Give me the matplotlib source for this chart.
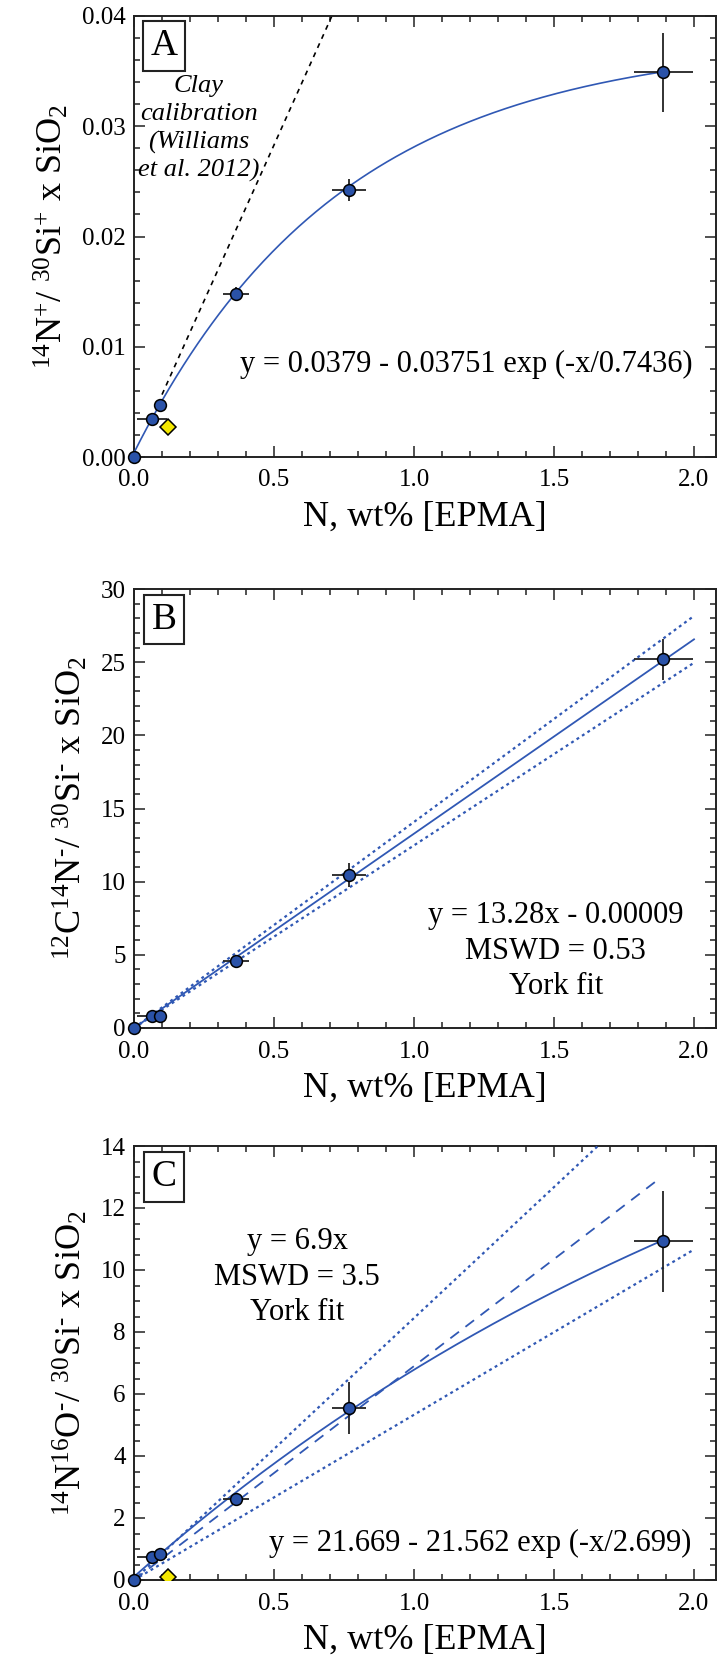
"""Three-panel SIMS nitrogen calibration (A: 14N+, B: 12C14N-, C: 14N16O-)."""

import matplotlib
matplotlib.use("Agg")
import matplotlib.pyplot as plt
import numpy as np
from matplotlib.ticker import MultipleLocator, FormatStrFormatter

plt.rcParams["font.family"] = ["Liberation Serif", "DejaVu Serif"]
plt.rcParams["mathtext.fontset"] = "custom"
plt.rcParams["mathtext.rm"] = "Liberation Serif"
plt.rcParams["mathtext.it"] = "Liberation Serif:italic"
plt.rcParams["mathtext.default"] = "regular"

# ---- data ----
n_epma = [0.0, 0.063, 0.092, 0.364, 0.767, 1.89]
n_epma_err = [0.0, 0.054, 0.01, 0.045, 0.06, 0.105]
glass_x = [0.12]  # yellow diamond standard

a_ratio = [0.0, 0.00345, 0.0047, 0.0148, 0.0242, 0.0349]
a_err = [0.0, 0.0002, 0.0002, 0.0006, 0.001, 0.0036]
a_glass = [0.0027]
a_fit = (0.0379, 0.03751, 0.7436)
clay_slope = 0.0566

b_ratio = [0.0, 0.82, 0.82, 4.6, 10.45, 25.2]
b_err = [0.0, 0.1, 0.1, 0.3, 0.8, 1.4]
b_slope, b_icpt = 13.28, -0.00009
b_band = (14.08, 12.48)

c_ratio = [0.0, 0.74, 0.84, 2.6, 5.55, 10.93]
c_err = [0.0, 0.1, 0.1, 0.2, 0.83, 1.63]
c_glass = [0.1]
c_fit = (21.669, 21.562, 2.699)
c_slope = 6.9
c_band = (8.45, 5.33)

BLUE = "#2a52a8"
LINE = "#3058b4"
INK = "#222222"

W, H = 719, 1670
fig = plt.figure(figsize=(W / 100, H / 100), dpi=100)


def make_axes(top, bottom):
    left, right = 134, 716.4
    return fig.add_axes([left / W, (H - bottom) / H, (right - left) / W, (bottom - top) / H])


def style(ax, ymax, ymajor, yminor, yfmt, ylabel):
    ax.set_xlim(0, 2.08)
    ax.set_ylim(0, ymax)
    ax.xaxis.set_major_locator(MultipleLocator(0.5))
    ax.xaxis.set_minor_locator(MultipleLocator(0.1))
    ax.xaxis.set_major_formatter(FormatStrFormatter("%.1f"))
    ax.yaxis.set_major_locator(MultipleLocator(ymajor))
    ax.yaxis.set_minor_locator(MultipleLocator(yminor))
    ax.yaxis.set_major_formatter(FormatStrFormatter(yfmt))
    ax.tick_params(which="both", direction="in", top=True, right=True, color=INK, width=1.1)
    ax.tick_params(which="major", length=8, labelsize=18)
    ax.tick_params(which="minor", length=4.5)
    ax.tick_params(axis="x", pad=9)
    ax.tick_params(axis="y", pad=6)
    for s in ax.spines.values():
        s.set_linewidth(1.4)
        s.set_color(INK)
    ax.set_xlabel("N, wt% [EPMA]", fontsize=26, labelpad=7)
    ax.set_ylabel(ylabel, fontsize=26, labelpad=8)


def panel_tag(ax, letter, y):
    ax.text(0.052, y, letter, transform=ax.transAxes, fontsize=27, ha="center", va="center",
            bbox=dict(boxstyle="square,pad=0.2", fc="white", ec=INK, lw=1.5))


def points(ax, ys, yerr):
    ax.errorbar(n_epma, ys, xerr=n_epma_err, yerr=yerr, fmt="none", ecolor=INK,
                elinewidth=1.3, capsize=0, zorder=4)
    ax.plot(n_epma, ys, "o", ms=8.5, mfc=BLUE, mec="black", mew=1.1, zorder=5, clip_on=False)


# ---- Panel A ----
ax = make_axes(16, 457)
style(ax, 0.04, 0.01, 0.002, "%.2f", r"$^{14}$N$^{+}$/ $^{30}$Si$^{+}$ x SiO$_{2}$")
xc = np.linspace(0.1, 0.04 / clay_slope, 50)
ax.plot(xc, clay_slope * xc, color="black", lw=1.2, ls=(0, (3, 3)), zorder=2)
xf = np.linspace(0, n_epma[-1], 300)
ax.plot(xf, a_fit[0] - a_fit[1] * np.exp(-xf / a_fit[2]), color=LINE, lw=1.2, zorder=3)
points(ax, a_ratio, a_err)
ax.plot(glass_x, a_glass, "D", ms=8.5, mfc="#f4e800", mec="black", mew=1.1, zorder=5)
panel_tag(ax, "A", 0.932)
ax.text(0.111, 0.744, "Clay\ncalibration\n(Williams\net al. 2012)", transform=ax.transAxes,
        fontsize=19, style="italic", ha="center", va="center", linespacing=1.32)
ax.text(0.959, 0.209, "y = 0.0379 - 0.03751 exp (-x/0.7436)", transform=ax.transAxes,
        fontsize=22, ha="right", va="center")

# ---- Panel B ----
ax = make_axes(589, 1028)
style(ax, 30, 5, 1, "%d", r"$^{12}$C$^{14}$N$^{\text{-}}$/ $^{30}$Si$^{\text{-}}$ x SiO$_{2}$")
xb = np.linspace(0, 2.0, 50)
ax.plot(xb, b_slope * xb + b_icpt, color=LINE, lw=1.3, zorder=3)
for s in b_band:
    ax.plot(xb, s * xb, color=LINE, lw=1.6, ls=(0, (1.3, 1.6)), zorder=3)
points(ax, b_ratio, b_err)
panel_tag(ax, "B", 0.930)
ax.text(0.724, 0.175, "y = 13.28x - 0.00009\nMSWD = 0.53\nYork fit", transform=ax.transAxes,
        fontsize=22, ha="center", va="center", multialignment="center", linespacing=1.3)

# ---- Panel C ----
ax = make_axes(1146, 1580)
style(ax, 14, 2, 0.5, "%d", r"$^{14}$N$^{16}$O$^{\text{-}}$/ $^{30}$Si$^{\text{-}}$ x SiO$_{2}$")
xd = np.linspace(0, 1.88, 50)
ax.plot(xd, c_slope * xd, color=LINE, lw=1.3, ls=(0, (6, 4.5)), zorder=3)
xu = np.linspace(0, 2.0, 50)
for s in c_band:
    ax.plot(xu, s * xu, color=LINE, lw=1.6, ls=(0, (1.3, 1.6)), zorder=3)
xf = np.linspace(0, n_epma[-1], 300)
ax.plot(xf, c_fit[0] - c_fit[1] * np.exp(-xf / c_fit[2]), color=LINE, lw=1.3, zorder=3)
points(ax, c_ratio, c_err)
ax.plot(glass_x, c_glass, "D", ms=8.5, mfc="#f4e800", mec="black", mew=1.1, zorder=5)
panel_tag(ax, "C", 0.929)
ax.text(0.28, 0.698, "y = 6.9x\nMSWD = 3.5\nYork fit", transform=ax.transAxes,
        fontsize=22, ha="center", va="center", multialignment="center", linespacing=1.3)
ax.text(0.957, 0.085, "y = 21.669 - 21.562 exp (-x/2.699)", transform=ax.transAxes,
        fontsize=22, ha="right", va="center")

fig.savefig("out.png", dpi=100)
